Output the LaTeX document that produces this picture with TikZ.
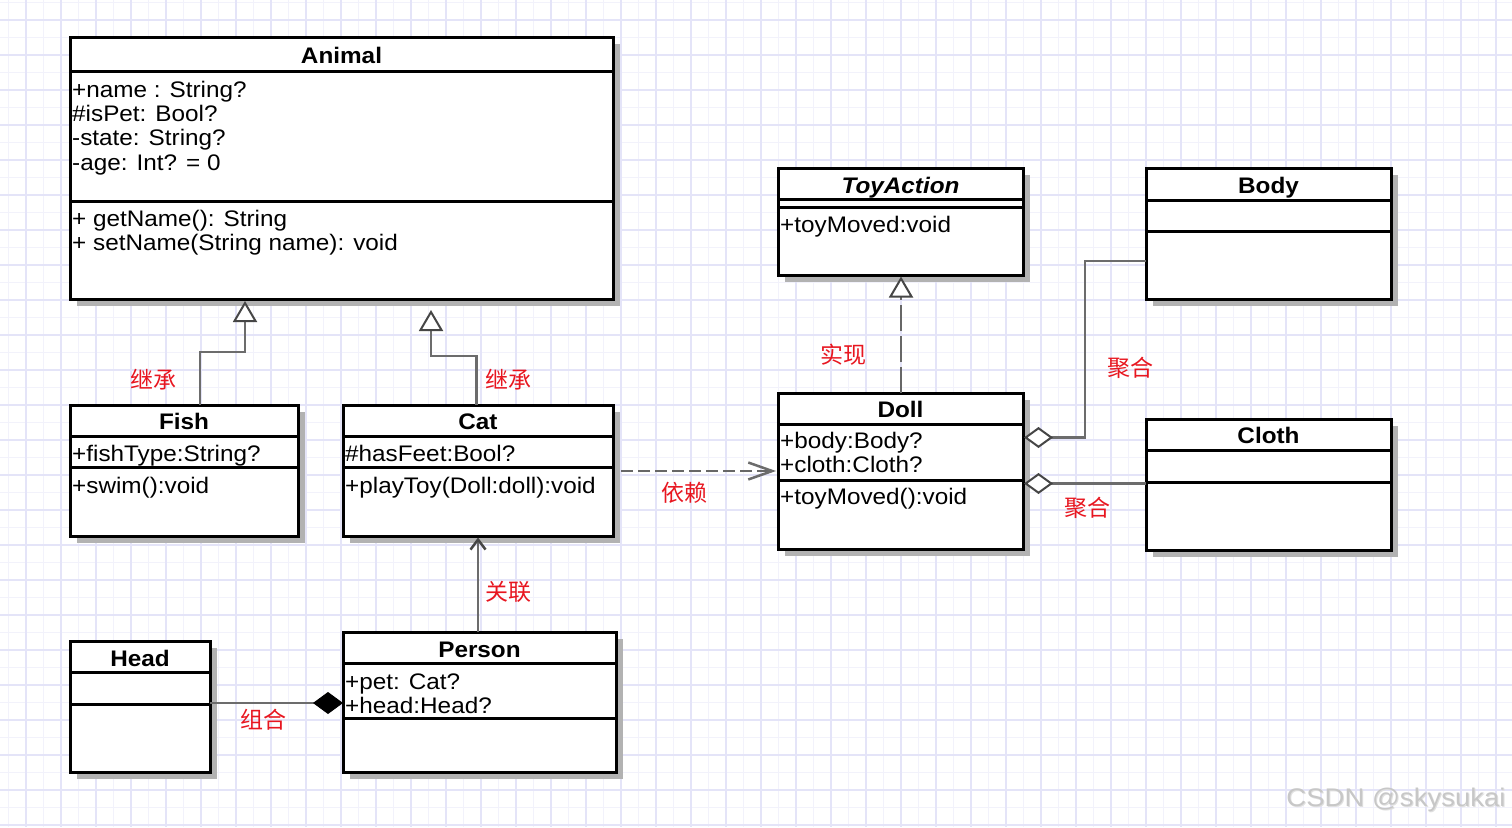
\documentclass[tikz,border=0pt]{standalone}
\usepackage{fontspec}
\setmainfont{Liberation Sans}[FakeStretch=1.08]
\newfontfamily\cjkfont{Noto Sans CJK SC}
\usetikzlibrary{arrows.meta,shadows,calc}
\definecolor{gridmaj}{RGB}{228,228,248}
\definecolor{gridmin}{RGB}{242,242,251}
\definecolor{conn}{RGB}{108,108,108}
\definecolor{tipc}{RGB}{70,70,70}
\definecolor{lblc}{RGB}{232,22,32}
\definecolor{shadowc}{RGB}{178,178,178}
\tikzset{
  classbox/.style={draw=black, line width=3pt, fill=white, inner sep=0pt, outer sep=0pt,
    general shadow={fill=shadowc, shadow xshift=7pt, shadow yshift=-7pt}},
  sepline/.style={draw=black, line width=3pt},
  ctitle/.style={anchor=base, inner sep=0pt, font=\fontsize{22.5}{24.4}\selectfont\bfseries},
  cattr/.style={anchor=base west, inner sep=0pt, font=\fontsize{22.5}{24.4}\selectfont},
  conn/.style={draw=conn, line width=2.5pt},
  depline/.style={draw=conn!95!black, line width=2.8pt, dash pattern=on 12pt off 5pt},
  realline/.style={draw=conn!95!black, line width=2.8pt, dash pattern=on 26pt off 5pt},
  lbl/.style={text=lblc, inner sep=0pt, font=\cjkfont\fontsize{23}{23}\selectfont},
  gmaj/.style={draw=gridmaj, line width=1.4pt},
  gmin/.style={draw=gridmin, line width=1.1pt},
  inh/.style={-{Triangle[length=21pt,width=24pt,fill=white,color=tipc,line width=2pt]}},
  agg/.style={-{Diamond[length=29pt,width=21pt,fill=white,color=tipc,line width=2pt]}},
  comp/.style={-{Diamond[length=30pt,width=22pt,fill=black,color=black,line width=1pt]}},
  openv/.style={-{Straight Barb[length=24pt,width=17pt,color=conn,line width=2.5pt]}},
  assocv/.style={-{Straight Barb[length=10pt,width=15pt,color=tipc,line width=2.5pt]}}
}
\newcommand\umlbox[5]{\node[classbox, minimum width=#4pt, minimum height=#5pt] (#1) at (#2,#3) {};}
\newcommand\umlsep[2]{\draw[sepline] ($(#1.north west)+(0,#2)$) -- ($(#1.north east)+(0,#2)$);}
\begin{document}
\begin{tikzpicture}[x=1pt,y=-1pt]
\useasboundingbox (0,0) rectangle (1512,827);
\fill[white] (0,0) rectangle (1512,827);
% grid
\foreach \k in {0,...,43} {\draw[gmin] ({8.5+35*\k},0) -- ({8.5+35*\k},827);}
\foreach \k in {0,...,23} {\draw[gmin] (0,{2.5+35*\k}) -- (1512,{2.5+35*\k});}
\foreach \k in {0,...,42} {\draw[gmaj] ({26+35*\k},0) -- ({26+35*\k},827);}
\foreach \k in {0,...,23} {\draw[gmaj] (0,{20+35*\k}) -- (1512,{20+35*\k});}

% classes
\umlbox{animal}{341.5}{168}{543}{262}
\umlsep{animal}{34}\umlsep{animal}{164}
\umlbox{fish}{184}{470.5}{228}{131}
\umlsep{fish}{31}\umlsep{fish}{62}
\umlbox{cat}{478}{470.5}{270}{131}
\umlsep{cat}{31}\umlsep{cat}{62}
\umlbox{head}{140}{706.5}{140}{131}
\umlsep{head}{31}\umlsep{head}{63}
\umlbox{person}{479.5}{702}{273}{140}
\umlsep{person}{31}\umlsep{person}{86}
\umlbox{toyaction}{900.5}{221.5}{245}{107}
\umlsep{toyaction}{31}\umlsep{toyaction}{39}
\umlbox{body}{1268.5}{233.5}{245}{131}
\umlsep{body}{32}\umlsep{body}{63}
\umlbox{doll}{900.5}{471}{245}{156}
\umlsep{doll}{31}\umlsep{doll}{87}
\umlbox{cloth}{1268.5}{484.5}{245}{131}
\umlsep{cloth}{31}\umlsep{cloth}{63}

% texts
\node[ctitle] (animal-t) at (341.5,63.5) {Animal};
\node[cattr] (animal-a1) at (72,97) {+name : String?};
\node[cattr] (animal-a2) at (72,121.4) {\#isPet: Bool?};
\node[cattr] (animal-a3) at (72,145.8) {-state: String?};
\node[cattr] (animal-a4) at (72,170.2) {-age: Int? = 0};
\node[cattr] (animal-m1) at (72,226.5) {+ getName(): String};
\node[cattr] (animal-m2) at (72,250.9) {+ setName(String name): void};

\node[ctitle] (fish-t) at (184,429.5) {Fish};
\node[cattr] (fish-a1) at (72,461.5) {+fishType:String?};
\node[cattr] (fish-m1) at (72,493.5) {+swim():void};

\node[ctitle] (cat-t) at (478,429.5) {Cat};
\node[cattr] (cat-a1) at (345,461.5) {\#hasFeet:Bool?};
\node[cattr] (cat-m1) at (345,493.5) {+playToy(Doll:doll):void};

\node[ctitle] (head-t) at (140,666.5) {Head};

\node[ctitle] (person-t) at (479.5,657.5) {Person};
\node[cattr] (person-a1) at (345,689.5) {+pet: Cat?};
\node[cattr] (person-a2) at (345,713.9) {+head:Head?};

\node[ctitle, font=\fontsize{22.5}{24.4}\selectfont\bfseries\itshape] (toy-t) at (900.5,193.5) {ToyAction};
\node[cattr] (toy-a1) at (780,232.5) {+toyMoved:void};

\node[ctitle] (body-t) at (1268.5,193.5) {Body};

\node[ctitle] (doll-t) at (900.5,417.5) {Doll};
\node[cattr] (doll-a1) at (780,448.5) {+body:Body?};
\node[cattr] (doll-a2) at (780,472.9) {+cloth:Cloth?};
\node[cattr] (doll-m1) at (780,504.5) {+toyMoved():void};

\node[ctitle] (cloth-t) at (1268.5,443.5) {Cloth};

% connectors
\draw[conn, inh] ($(fish.north west)+(130,0)$) |- ($(animal.south west)+(175,53)$) -- ($(animal.south west)+(175,2)$);
\draw[conn, inh] ($(cat.north west)+(133.5,0)$) |- ($(animal.south west)+(361,57)$) -- ($(animal.south west)+(361,11)$);
\draw[depline, openv] ($(cat.east)+(8,0.5)$) -- ($(doll.west)+(-2,0)$);
\draw[conn, assocv] ($(person.north west)+(135,0)$) -- ($(cat.south west)+(135,1.5)$);
\draw[conn, comp] ($(head.north east)+(0,62)$) -- ($(person.north west)+(0,71)$);
\draw[conn, agg] ($(body.north west)+(0,93)$) -- ++(-61,0) |- ($(doll.north east)+(1,44.5)$);
\draw[conn, agg] ($(cloth.north west)+(0,64.5)$) -- ($(doll.north east)+(1,90.5)$);
\draw[realline, inh] ($(doll.north west)+(123,0)$) -- ($(toyaction.south west)+(123,1.5)$);

% labels
\node[lbl] (l-inh1) at (153,380) {继承};
\node[lbl] (l-inh2) at (508,380) {继承};
\node[lbl] (l-real) at (843,355) {实现};
\node[lbl] (l-agg1) at (1130,368) {聚合};
\node[lbl] (l-dep) at (684,493) {依赖};
\node[lbl] (l-agg2) at (1087,508) {聚合};
\node[lbl] (l-assoc) at (508,592) {关联};
\node[lbl] (l-comp) at (263,720) {组合};

% watermark
\node[text=black!12, inner sep=0pt, font=\fontsize{25.5}{26}\selectfont] (wm-s) at (1397,801) {CSDN @skysukai};
\node[text=black!22, inner sep=0pt, font=\fontsize{25.5}{26}\selectfont] (wm) at (1396,800) {CSDN @skysukai};
\end{tikzpicture}
\end{document}
